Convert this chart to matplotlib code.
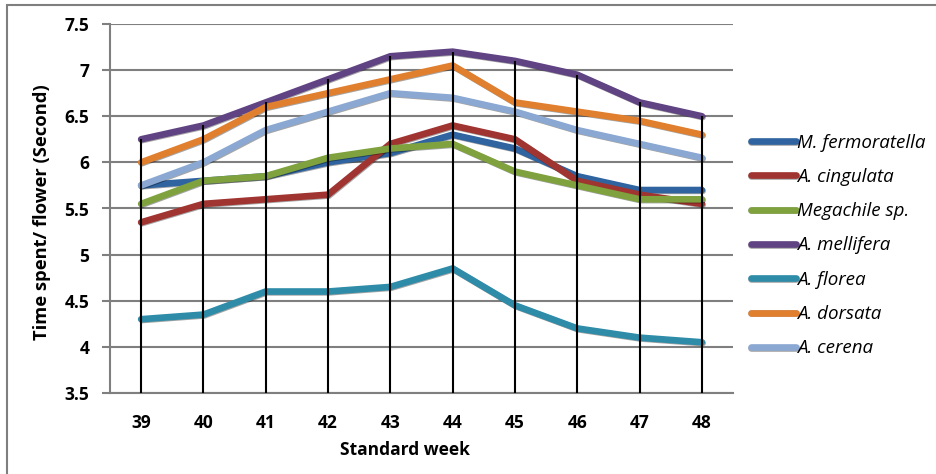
import matplotlib
matplotlib.use("Agg")
import matplotlib.pyplot as plt
import matplotlib.patheffects as pe
from matplotlib.patches import Rectangle

# standard weeks and time spent per flower (s) for each pollinator
weeks = [39, 40, 41, 42, 43, 44, 45, 46, 47, 48]
m_fermoratella = [5.75, 5.8, 5.85, 6.0, 6.1, 6.3, 6.15, 5.85, 5.7, 5.7]
a_cingulata = [5.35, 5.55, 5.6, 5.65, 6.2, 6.4, 6.25, 5.8, 5.65, 5.55]
megachile = [5.55, 5.8, 5.85, 6.05, 6.15, 6.2, 5.9, 5.75, 5.6, 5.6]
a_mellifera = [6.25, 6.4, 6.65, 6.9, 7.15, 7.2, 7.1, 6.95, 6.65, 6.5]
a_florea = [4.3, 4.35, 4.6, 4.6, 4.65, 4.85, 4.45, 4.2, 4.1, 4.05]
a_dorsata = [6.0, 6.25, 6.6, 6.75, 6.9, 7.05, 6.65, 6.55, 6.45, 6.3]
a_cerena = [5.75, 6.0, 6.35, 6.55, 6.75, 6.7, 6.55, 6.35, 6.2, 6.05]

labels = ["M. fermoratella", "A. cingulata", "Megachile sp.", "A. mellifera",
          "A. florea", "A. dorsata", "A. cerena"]
series = [m_fermoratella, a_cingulata, megachile, a_mellifera,
          a_florea, a_dorsata, a_cerena]
colors = ["#2f64a0", "#a03430", "#7fa23e", "#604382",
          "#2e8ca8", "#e07f2e", "#8ba8d2"]

font = "Open Sans"

fig = plt.figure(figsize=(9.36, 4.74), dpi=100)
ax = fig.add_axes([110 / 936, 1 - 393 / 474, 623 / 936, 369 / 474])

shadow = [pe.SimpleLineShadow(offset=(0.6, -0.6), shadow_color="black", alpha=0.35),
          pe.Normal()]
for vals, lab, c in zip(series, labels, colors):
    ax.plot(weeks, vals, color=c, lw=4.8, label=lab, solid_capstyle="round",
            solid_joinstyle="miter", path_effects=shadow, zorder=3)

# drop lines from the highest series down to the axis
tops = [max(col) for col in zip(*series)]
ax.vlines(weeks, 3.5, tops, color="black", lw=1.5, zorder=4)

ax.set_xlim(38.5, 48.5)
ax.set_ylim(3.5, 7.5)
ax.set_yticks([3.5, 4, 4.5, 5, 5.5, 6, 6.5, 7, 7.5])
ax.set_yticklabels(["3.5", "4", "4.5", "5", "5.5", "6", "6.5", "7", "7.5"])
ax.set_xticks(weeks)
ax.grid(axis="y", color="#7f7f7f", lw=1.5, zorder=1)
ax.set_axisbelow(True)
for s in ["top", "right"]:
    ax.spines[s].set_visible(False)
for s in ["left", "bottom"]:
    ax.spines[s].set_color("#7f7f7f")
    ax.spines[s].set_linewidth(1.5)
ax.tick_params(axis="y", length=6, width=1.5, color="#7f7f7f", pad=9)
ax.tick_params(axis="x", length=0, pad=15)
for t in ax.get_xticklabels() + ax.get_yticklabels():
    t.set_fontfamily(font)
    t.set_fontweight("bold")
    t.set_fontsize(12.5)

ax.set_xlabel("Standard week", fontfamily=font, fontweight="bold", fontsize=12.5)
ax.xaxis.set_label_coords((405 - 110) / 623, -0.13)
ax.set_ylabel("Time spent/ flower (Second)", fontfamily=font, fontweight="bold",
              fontsize=13.2)
ax.yaxis.set_label_coords((51 - 110) / 623, 0.49)

leg = fig.legend(loc="upper left", bbox_to_anchor=(743 / 936, 1 - 126 / 474),
                 frameon=False, handlelength=2.4, handletextpad=0.1,
                 labelspacing=0.87, borderaxespad=0,
                 prop={"family": font, "style": "italic", "size": 13.5})
for h in leg.get_lines():
    h.set_linewidth(4.8)
    h.set_solid_capstyle("round")

# outer chart border
fig.patches.append(Rectangle((7 / 936, -0.05), 1.0, 1 - 5 / 474 + 0.05,
                             transform=fig.transFigure, fill=False,
                             edgecolor="#7f7f7f", lw=1.5))

fig.savefig("out.png", dpi=100)
